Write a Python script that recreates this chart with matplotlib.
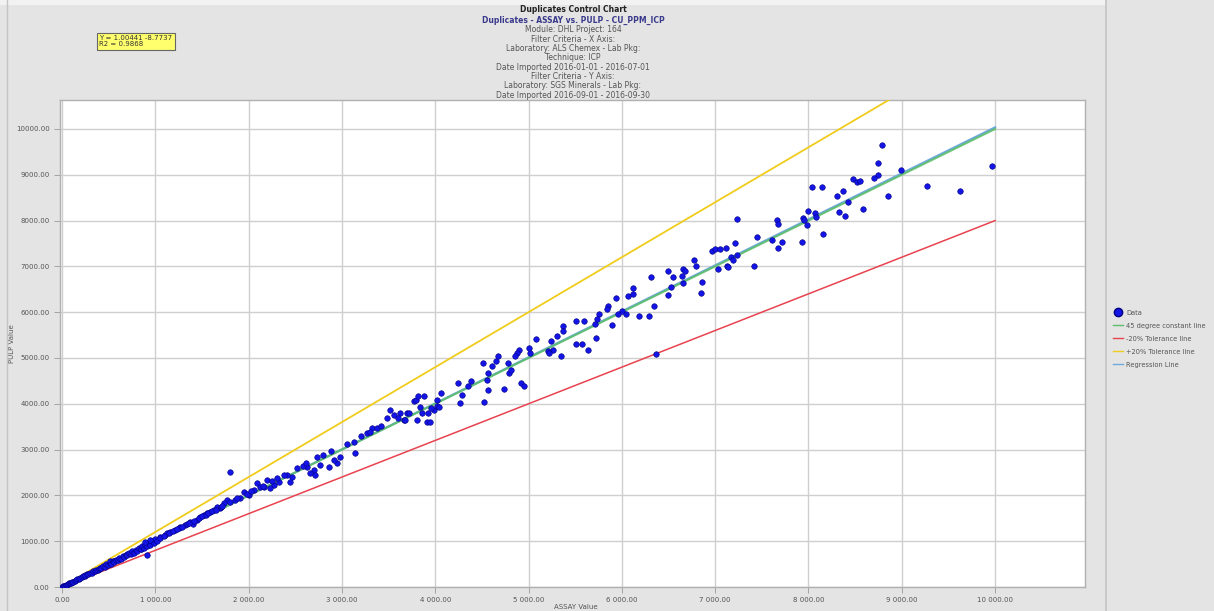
import matplotlib
matplotlib.use('Agg')
import matplotlib.pyplot as plt
from matplotlib.lines import Line2D
from matplotlib.patches import Rectangle
from matplotlib.ticker import FuncFormatter, MultipleLocator

# ---------------- data ----------------
assay_low = [5, 12, 20, 30, 40, 52, 65, 78, 90, 100, 105, 120, 135, 150, 165, 180, 198,
             215, 230, 248, 250, 265, 282, 300, 318, 335, 352, 370, 388, 400, 405, 422,
             440, 458, 475, 492, 510, 520, 528, 545, 560, 562, 580, 598, 600, 615, 632,
             650, 668, 685, 700, 702, 720, 738, 755, 772, 790, 808, 825, 842, 850, 860,
             878, 895, 911, 912, 930, 948, 965, 982]
pulp_low = [4, 13, 18, 31, 38, 54, 62, 80, 86, 95, 108, 116, 139, 146, 170, 175, 204,
            208, 238, 240, 262, 274, 276, 310, 308, 346, 340, 382, 378, 395, 418, 410,
            455, 445, 492, 480, 528, 560, 512, 565, 575, 548, 600, 582, 590, 635, 615,
            672, 648, 700, 725, 690, 742, 720, 780, 752, 815, 790, 848, 822, 830, 886,
            858, 920, 693, 900, 960, 925, 995, 960]

assay_mid = [1804, 3857, 3911, 3982, 4018, 3804, 3768, 3518, 3554, 3625, 3661, 3482,
             3321, 3268, 3125, 3143, 2946, 2982, 2857, 2911, 2768, 2732, 2696, 2661,
             2625, 2714, 2464, 2439, 2411, 2321, 2268, 2232, 2161, 2196, 2054, 2000,
             1946, 1911, 2089, 1768, 1732, 1696, 1661, 1625, 1589, 1554, 1518, 1446,
             1375, 1321, 1268, 1214, 1161, 1107, 1054, 1000, 946, 893, 1480, 1400,
             1250, 1130, 1020,
             1050, 1090, 1150, 1190, 1230, 1290, 1340, 1360, 1420, 1470, 1500, 1540,
             1570, 1610, 1650, 1700, 1720, 1800, 1850, 1880, 1980, 2030, 2120, 2150,
             2250, 2300, 2380, 2520, 2580, 2620, 2800, 2880, 3050, 3200, 3300, 3380,
             3420, 3600, 3700]
pulp_mid = [2518, 3796, 3613, 3869, 3942, 3650, 4051, 3869, 3759, 3796, 3650, 3686,
            3467, 3358, 3175, 2920, 2701, 2847, 2628, 2774, 2664, 2847, 2555, 2482,
            2628, 2445, 2409, 2299, 2445, 2299, 2226, 2153, 2190, 2336, 2117, 2007,
            2080, 1934, 2263, 1898, 1825, 1715, 1752, 1679, 1642, 1606, 1569, 1460,
            1423, 1350, 1314, 1241, 1204, 1131, 1095, 1058, 1022, 985, 1520, 1380,
            1280, 1170, 1000,
            1075, 1110, 1180, 1215, 1265, 1320, 1375, 1400, 1450, 1510, 1540, 1575,
            1610, 1655, 1690, 1745, 1770, 1850, 1900, 1935, 2040, 2095, 2180, 2215,
            2310, 2370, 2450, 2590, 2650, 2700, 2880, 2960, 3130, 3290, 3390, 3470,
            3510, 3700, 3800]

assay_up = [6776, 6796, 6661, 6673, 6645, 6653, 6490, 6551, 6531, 6490, 6318, 6347,
            6184, 6286, 6122, 6061, 6122, 5939, 6000, 6041, 5959, 5857, 5837, 5898,
            5755, 5735, 5714, 5722, 5510, 5592, 5510, 5571, 5633, 5367, 5367, 5306,
            5245, 5265, 5347, 5204, 5224, 5082, 5000, 5020, 4898, 4878, 4857, 4918,
            4947, 4735, 4776, 4796, 4816, 4673, 4653, 4612, 4571, 4551, 4510, 4571,
            4522, 4388, 4347, 4286, 4245, 4265, 4061, 4020, 4041, 3959, 3918, 3939,
            3796, 3837, 3714, 3673, 3878, 3816, 6370]
pulp_up = [7144, 7012, 6954, 6903, 6793, 6647, 6903, 6778, 6559, 6369, 6778, 6135,
           5915, 5915, 6537, 6354, 6391, 6318, 6025, 5952, 5952, 6135, 6061, 5710,
           5952, 5842, 5732, 5440, 5805, 5805, 5315, 5315, 5184, 5696, 5586, 5476,
           5366, 5184, 5037, 5147, 5110, 5418, 5220, 5110, 5184, 5110, 5037, 4452,
           4393, 4328, 4891, 4671, 4745, 5037, 4927, 4818, 4671, 4525, 4891, 4306,
           4050, 4488, 4379, 4196, 4452, 4013, 4233, 4086, 3940, 3903, 3794, 3611,
           4086, 3940, 3794, 3648, 4160, 4160, 5096]

assay_top = [8785, 8742, 8996, 9968, 8746, 8703, 8481, 8517, 8553, 9268, 9622, 8857,
             8035, 8142, 8374, 8303, 8427, 8588, 8331, 8396, 8000, 8071, 8078, 7945,
             7952, 7981, 8160, 7928, 7231, 7667, 7671, 7452, 7606, 7713, 7671, 6963,
             6999, 7052, 7117, 7213, 7231, 7167, 7195, 7124, 7140, 7034, 7420, 6856,
             6849]
pulp_top = [9651, 9264, 9105, 9199, 8996, 8937, 8902, 8850, 8865, 8756, 8653, 8537,
            8741, 8741, 8653, 8537, 8413, 8246, 8181, 8100, 8216, 8172, 8085, 8050,
            8013, 7904, 7701, 7540, 8035, 8013, 7926, 7635, 7576, 7526, 7395, 7336,
            7373, 7373, 7409, 7518, 7249, 7199, 7140, 7009, 6980, 6943, 7015, 6666,
            6413]

assay = assay_low + assay_mid + assay_up + assay_top
pulp = pulp_low + pulp_mid + pulp_up + pulp_top

reg_slope = 1.00441
reg_intercept = -8.7737
line_x = [0, 10000]

title_lines = ["Module: DHL Project: 164",
               "Filter Criteria - X Axis:",
               "Laboratory: ALS Chemex - Lab Pkg:",
               "Technique: ICP",
               "Date Imported 2016-01-01 - 2016-07-01",
               "Filter Criteria - Y Axis:",
               "Laboratory: SGS Minerals - Lab Pkg:",
               "Date Imported 2016-09-01 - 2016-09-30"]

# ---------------- figure ----------------
W, H = 1214, 611
fig = plt.figure(figsize=(W / 100, H / 100), dpi=100, facecolor='#e4e4e4')

# panel separators
fig.add_artist(Line2D([7 / W, 7 / W], [0, 1], color='#c4c4c4', lw=1))
fig.add_artist(Line2D([1106 / W, 1106 / W], [0, 1], color='#c4c4c4', lw=1.2))
fig.add_artist(Rectangle((0, 1 - 5 / H), 1106 / W, 5 / H, color='#f2f2f2', lw=0))

ax = fig.add_axes([60 / W, 1 - 587 / H, (1085 - 60) / W, (587 - 100) / H])
ax.set_facecolor('white')
ax.set_xlim(-21, 10964)
ax.set_ylim(0, 10633)

ax.xaxis.set_major_locator(MultipleLocator(1000))
ax.yaxis.set_major_locator(MultipleLocator(1000))
ax.xaxis.set_major_formatter(FuncFormatter(lambda v, p: f"{v:,.2f}".replace(',', ' ')))
ax.yaxis.set_major_formatter(FuncFormatter(lambda v, p: f"{v:.2f}"))
ax.tick_params(labelsize=5, colors='#999999', labelcolor='#555555', length=4, width=0.6)
ax.grid(True, color='#cfcfcf', lw=1)
ax.set_axisbelow(True)
for s in ax.spines.values():
    s.set_color('#b0b0b0')
    s.set_linewidth(1)

lx = line_x
ax.plot(lx, [reg_slope * v + reg_intercept for v in lx], color='#6fa8dc', lw=1.6, zorder=2)
ax.plot(lx, lx, color='#5cbf6a', lw=1.5, zorder=3, alpha=0.9)
ax.plot(lx, [0.8 * v for v in lx], color='#e8434f', lw=1.1, zorder=3)
ax.plot(lx, [1.2 * v for v in lx], color='#f0cc1c', lw=1.3, zorder=3)

ax.scatter(assay, pulp, s=16, c='#1414e6', edgecolors='#000080', linewidths=0.4, zorder=4)

ax.set_xlabel('ASSAY Value', fontsize=5, color='#555555', labelpad=2)
ax.xaxis.set_label_coords((576 - 60) / (1085 - 60), -0.035)
ax.set_ylabel('PULP Value', fontsize=5, color='#555555')
ax.yaxis.set_label_coords(-(60 - 15) / (1085 - 60), 0.5)

# titles
cx = 573 / W
fig.text(cx, 1 - 10 / H, 'Duplicates Control Chart', ha='center', va='center',
         fontsize=5.5, fontweight='bold', color='#222222')
fig.text(cx, 1 - 20 / H, 'Duplicates - ASSAY vs. PULP - CU_PPM_ICP', ha='center', va='center',
         fontsize=5.5, fontweight='bold', color='#3a3a8c')
for i, t in enumerate(title_lines):
    fig.text(cx, 1 - (30 + 9.3 * i) / H, t, ha='center', va='center',
             fontsize=5.5, color='#555555')

# equation box
fig.text(99 / W, 1 - 35 / H, f"Y = {reg_slope:.5f} {reg_intercept:.4f}\nR2 = 0.9868",
         ha='left', va='top', fontsize=5, color='#333333', linespacing=1.1,
         bbox=dict(boxstyle='square,pad=0.35', facecolor='#ffff6e', edgecolor='#666666', lw=0.8))

# legend
handles = [Line2D([], [], marker='o', ls='none', color='#1414e6', markeredgecolor='#000080',
                  markersize=6),
           Line2D([], [], color='#5cbf6a', lw=1),
           Line2D([], [], color='#e8434f', lw=1),
           Line2D([], [], color='#f0cc1c', lw=1),
           Line2D([], [], color='#6fa8dc', lw=1)]
labels = ['Data', '45 degree constant line', '-20% Tolerance line', '+20% Tolerance line',
          'Regression Line']
leg = fig.legend(handles, labels, loc='upper left', bbox_to_anchor=(1110 / W, 1 - 307 / H),
                 fontsize=4.8, frameon=False, handlelength=1.6, handletextpad=0.4,
                 labelspacing=1.05, borderaxespad=0)
for t in leg.get_texts():
    t.set_color('#555555')

fig.savefig('out.png', dpi=100, facecolor=fig.get_facecolor())
